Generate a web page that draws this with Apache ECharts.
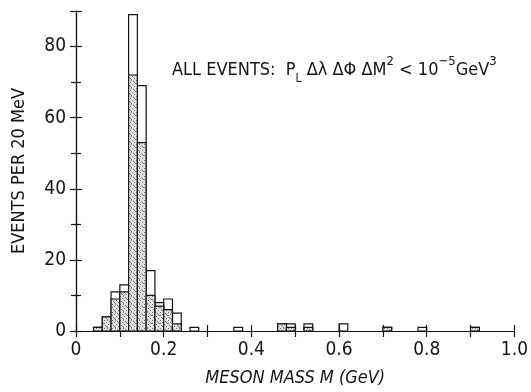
<!DOCTYPE html>
<html>
<head>
<meta charset="utf-8">
<script src="https://cdn.jsdelivr.net/npm/echarts@6/dist/echarts.min.js"></script>
<style>
  html, body { margin: 0; padding: 0; background: #fff; }
  #chart { width: 531px; height: 392px; }
</style>
</head>
<body>
<div id="chart"></div>
<script>
// lower edge of each 20 MeV bin (GeV)
const binLo = [0.04, 0.06, 0.08, 0.10, 0.12, 0.14, 0.16, 0.18, 0.20, 0.22, 0.26, 0.36, 0.46, 0.48, 0.52, 0.60, 0.70, 0.78, 0.90]
// all events (open histogram)
const totalCounts = [1, 4, 11, 13, 89, 69, 17, 8, 9, 5, 1, 1, 2, 2, 2, 2, 1, 1, 1]
// shaded subset
const shadedCounts = [1, 4, 9, 11, 72, 53, 10, 7, 6, 2, 0, 0, 2, 1, 1, 0, 1, 0, 1]
const binWidth = 0.02
const yTicks = [0, 20, 40, 60, 80]

const font = '"Liberation Sans Narrow", "DejaVu Sans Condensed", sans-serif'
const ink = "#151515"

// stipple pattern (fixed dot layout)
const pat = document.createElement("canvas")
pat.width = 8
pat.height = 8
const pc = pat.getContext("2d")
pc.fillStyle = "#e2e2e2"
pc.fillRect(0, 0, 8, 8)
pc.fillStyle = "#707070"
;[[0, 0], [5, 1], [2, 2], [7, 3], [4, 4], [1, 5], [6, 6], [3, 7], [3, 0], [0, 3], [6, 2], [2, 6]].forEach(([x, y]) => pc.fillRect(x, y, 1, 1))

const chart = echarts.init(document.getElementById("chart"))

function histItem(fill) {
  return function (params, api) {
    const lo = api.value(0)
    const hi = api.value(1)
    const h = api.value(2)
    if (!h) return null
    const p0 = api.coord([lo, 0])
    const p1 = api.coord([hi, h])
    return {
      type: "rect",
      shape: { x: p0[0], y: p1[1], width: p1[0] - p0[0], height: p0[1] - p1[1] },
      style: { fill: fill, stroke: ink, lineWidth: 1.2 },
    }
  }
}

const axisCommon = {
  axisLine: { lineStyle: { color: ink, width: 1.2 } },
  axisTick: { inside: false, length: 6, lineStyle: { color: ink, width: 1.2 } },
  splitLine: { show: false },
}

const option = {
  backgroundColor: "#fff",
  animation: false,
  grid: { left: 76, right: 13, top: 11, bottom: 61 },
  xAxis: [
    {
      type: "value",
      min: 0,
      max: 1,
      interval: 0.1,
      position: "bottom",
      ...axisCommon,
      axisLabel: {
        color: ink,
        fontFamily: font,
        fontSize: 19,
        margin: 10,
        formatter: (v) => {
          const k = Math.round(v * 10)
          if (k % 2) return ""
          return k === 0 ? "0" : v.toFixed(1)
        },
      },
      name: "MESON MASS M (GeV)",
      nameLocation: "middle",
      nameGap: 38,
      nameTextStyle: { color: ink, fontFamily: font, fontSize: 18, fontStyle: "italic" },
    },
    {
      type: "value",
      min: 0,
      max: 1,
      interval: 0.1,
      position: "top",
      ...axisCommon,
      axisLabel: { show: false },
    },
  ],
  yAxis: [
    {
      type: "value",
      min: 0,
      max: 90,
      interval: 20,
      position: "left",
      ...axisCommon,
      minorTick: { show: true, splitNumber: 2, length: 5, lineStyle: { color: ink, width: 1.2 } },
      axisLabel: {
        color: ink,
        fontFamily: font,
        fontSize: 19,
        margin: 10,
        showMaxLabel: false,
        formatter: (v) => (yTicks.includes(v) ? String(v) : ""),
      },
      name: "EVENTS PER 20 MeV",
      nameLocation: "middle",
      nameGap: 48,
      nameTextStyle: { color: ink, fontFamily: font, fontSize: 18 },
    },
    {
      type: "value",
      min: 0,
      max: 90,
      interval: 20,
      position: "right",
      ...axisCommon,
      minorTick: { show: true, splitNumber: 2, length: 5, lineStyle: { color: ink, width: 1.2 } },
      axisLabel: { show: false },
    },
  ],
  series: [
    {
      type: "custom",
      renderItem: histItem("none"),
      encode: { x: [0, 1], y: 2 },
      data: binLo.map((lo, i) => [lo, lo + binWidth, totalCounts[i]]),
      z: 2,
    },
    {
      type: "custom",
      renderItem: histItem({ image: pat, repeat: "repeat" }),
      encode: { x: [0, 1], y: 2 },
      data: binLo.map((lo, i) => [lo, lo + binWidth, shadedCounts[i]]),
      z: 3,
    },
  ],
  graphic: [
    {
      type: "text",
      left: 172,
      top: 55,
      style: {
        text: "{n|ALL EVENTS:  P}{s|L}{n| Δλ ΔΦ ΔM}{u|2}{n| < 10}{u|−5}{n|GeV}{u|3}",
        fill: ink,
        rich: {
          n: { fontFamily: font, fontSize: 18, fill: ink, verticalAlign: "bottom", lineHeight: 24 },
          s: { fontFamily: font, fontSize: 12, fill: ink, verticalAlign: "bottom", lineHeight: 18, padding: [0, 0, -6, 0] },
          u: { fontFamily: font, fontSize: 13, fill: ink, verticalAlign: "top", lineHeight: 24 },
        },
        font: "18px " + font,
      },
    },
  ],
}

chart.setOption(option)
</script>
</body>
</html>
